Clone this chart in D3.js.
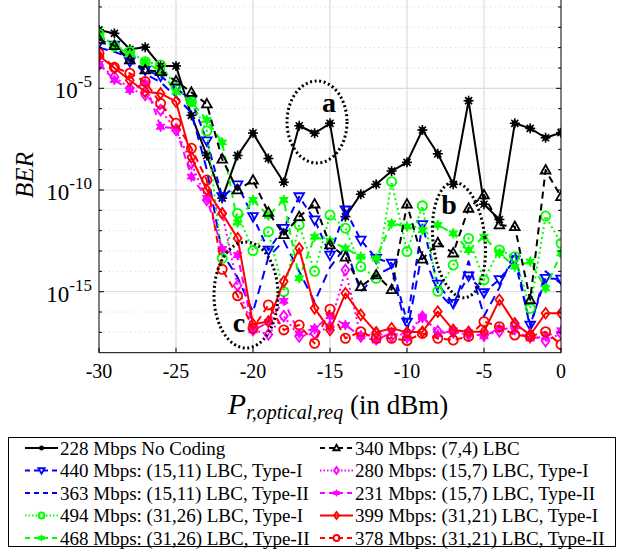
<!DOCTYPE html>
<html><head><meta charset="utf-8">
<script src="https://cdn.jsdelivr.net/npm/d3@7"></script>
<style>body{margin:0;background:#fff}svg{display:block}</style>
</head><body><div id="chart"></div>
<script>
// x values (dBm)
const xVals = d3.range(-30, 1, 1);
// log10(BER) values, one per x value
const noCoding   = [-2.13,-2.30,-3.08,-2.98,-3.90,-3.90,-6.33,-8.3,-10.4,-8.3,-7.2,-8.45,-9.62,-6.84,-7.21,-6.72,-11.31,-10.21,-9.72,-9.07,-8.64,-7.05,-8.22,-9.72,-5.61,-10.7,-11.45,-6.72,-6.97,-7.43,-7.18];
const lbc74      = [-2.6,-2.9,-3.6,-4.1,-4.18,-4.64,-5.2,-5.77,-8.48,-10.0,-9.52,-11.1,-12.2,-11.31,-10.69,-12.7,-13.3,-14.75,-14.18,-14.9,-10.7,-13.4,-12.6,-13.1,-10.9,-10.24,-11.72,-11.8,-15.4,-9.02,-10.33];
const lbc1511T1  = [-2.76,-2.87,-3.69,-4.1,-4.4,-5.0,-5.57,-7.58,-10.33,-9.75,-11.31,-12.95,-11.88,-10.33,-11.47,-13.2,-10.98,-12.46,-13.36,-13.6,-16.5,-11.7,-14.63,-15.57,-14.22,-15.04,-14.4,-13.44,-16.64,-14.34,-14.38];
const lbc1511T2  = [-3.0,-3.2,-3.5,-4.3,-4.7,-5.4,-6.2,-9.0,-13.1,-14.3,-16.0,-13.3,-12.5,-14.0,-15.5,-13.8,-12.8,-15.0,-14.2,-13.8,-17.0,-13.0,-15.0,-15.8,-13.5,-16.2,-14.8,-13.0,-16.8,-14.0,-14.6];
const lbc3126T1  = [-2.33,-2.92,-3.2,-3.69,-3.85,-4.9,-5.66,-7.1,-13.36,-11.15,-12.98,-12.05,-15.0,-11.72,-14.0,-11.23,-11.88,-13.77,-14.34,-9.59,-13.03,-10.78,-14.98,-13.69,-12.38,-14.42,-12.95,-13.28,-15.82,-11.28,-12.62];
const lbc3126T2  = [-2.4,-2.95,-3.3,-3.7,-4.18,-5.17,-5.66,-6.56,-7.66,-11.6,-10.49,-11.27,-10.49,-14.34,-12.3,-12.5,-12.87,-13.28,-13.36,-11.64,-11.8,-11.97,-11.72,-12.13,-12.95,-12.3,-13.11,-13.77,-13.52,-14.83,-13.11];
const lbc157T1   = [-3.85,-4.43,-5.0,-5.33,-6.07,-7.05,-8.69,-10.49,-11.15,-14.7,-16.88,-17.1,-16.2,-17.2,-17.05,-16.72,-13.93,-17.2,-17.05,-17.2,-17.05,-16.23,-16.95,-17.0,-17.1,-17.15,-16.95,-16.65,-17.1,-17.43,-17.05];
const lbc157T2   = [-3.8,-4.59,-5.08,-4.75,-6.89,-6.97,-9.34,-10.4,-12.9,-13.2,-16.9,-16.5,-15.45,-17.05,-16.8,-16.2,-16.64,-17.2,-17.4,-17.0,-17.3,-16.23,-17.1,-16.9,-17.0,-17.2,-16.8,-16.9,-17.3,-17.2,-16.9];
const lbc3121T1  = [-3.4,-4.0,-4.6,-5.17,-5.25,-5.66,-8.4,-10.0,-11.15,-12.37,-16.6,-16.47,-14.5,-12.87,-15.82,-16.88,-15.08,-16.14,-17.0,-16.8,-17.0,-16.97,-15.98,-16.88,-16.97,-16.97,-15.4,-16.55,-17.13,-16.06,-16.06];
const lbc3121T2  = [-3.28,-3.97,-4.26,-4.67,-5.74,-6.72,-7.95,-9.51,-13.9,-15.2,-16.8,-15.65,-16.88,-16.64,-17.54,-15.86,-17.29,-16.97,-17.3,-17.29,-17.4,-17.05,-17.29,-17.38,-17.2,-16.47,-16.72,-17.13,-17.2,-16.97,-17.6];

const seriesNames = ["228 Mbps No Coding","440 Mbps: (15,11) LBC, Type-I","363 Mbps: (15,11) LBC, Type-II","494 Mbps: (31,26) LBC, Type-I","468 Mbps: (31,26) LBC, Type-II","340 Mbps: (7,4) LBC","280 Mbps: (15,7) LBC, Type-I","231 Mbps: (15,7) LBC, Type-II","399 Mbps: (31,21) LBC, Type-I","378 Mbps: (31,21) LBC, Type-II"];
const seriesData = [noCoding,lbc1511T1,lbc1511T2,lbc3126T1,lbc3126T2,lbc74,lbc157T1,lbc157T2,lbc3121T1,lbc3121T2];
const xTicks = [-30,-25,-20,-15,-10,-5,0];
const yTickExps = [-15,-10,-5];

const styles = [
  {color:"#000000", dash:null,     marker:"dotstar"},
  {color:"#0000ff", dash:"7,5",    marker:"tridown"},
  {color:"#0000ff", dash:"9,6",    marker:null},
  {color:"#00ff00", dash:"2,3",    marker:"circle"},
  {color:"#00ff00", dash:"7,5",    marker:"hexa"},
  {color:"#000000", dash:"7,5",    marker:"triup"},
  {color:"#ff00ff", dash:"2,3",    marker:"diamond"},
  {color:"#ff00ff", dash:"7,5",    marker:"hexa"},
  {color:"#ff0000", dash:null,     marker:"diamond"},
  {color:"#ff0000", dash:"7,5",    marker:"circle"}
];

const W=619,H=549;
const FONT="'Liberation Serif','Times New Roman','DejaVu Serif',serif";
const svg=d3.select("#chart").append("svg").attr("width",W).attr("height",H).attr("font-family",FONT);
const L=99,R=561,T=0,B=352.7;
const x=d3.scaleLinear().domain([-30,0]).range([L,R]);
const y=d3.scaleLog().domain([1e-18,1e-2]).range([B,27.3]);

// grid
const g=svg.append("g");
for(let e=-17;e<=-1;e++){
  const major = yTickExps.includes(e);
  g.append("line").attr("x1",L).attr("x2",R).attr("y1",y(Math.pow(10,e))).attr("y2",y(Math.pow(10,e)))
   .attr("stroke",major?"#dcdcdc":"#e0e0e0").attr("stroke-width",major?1.2:1).attr("stroke-dasharray",major?null:"1.5,3");
}
xTicks.slice(1,-1).forEach(v=>{
  g.append("line").attr("x1",x(v)).attr("x2",x(v)).attr("y1",T).attr("y2",B).attr("stroke","#dcdcdc").attr("stroke-width",1.2);
});

svg.append("clipPath").attr("id","clip").append("rect").attr("x",L).attr("y",T).attr("width",R-L).attr("height",B-T);

function markerPath(type,s){
  const r=s;
  switch(type){
    case "circle": return d3.symbol().type(d3.symbolCircle).size(Math.PI*r*r)();
    case "diamond": return `M0,${-r*1.15}L${r*0.85},0L0,${r*1.15}L${-r*0.85},0Z`;
    case "triup": return `M0,${-r*1.1}L${r*1.05},${r*0.75}L${-r*1.05},${r*0.75}Z`;
    case "tridown": return `M0,${r*1.1}L${r*1.05},${-r*0.75}L${-r*1.05},${-r*0.75}Z`;
    case "hexa": {
      let p=[];for(let i=0;i<12;i++){const a=Math.PI/6*i-Math.PI/2;const rr=i%2?r*0.55:r*1.1;p.push([rr*Math.cos(a),rr*Math.sin(a)]);}
      return "M"+p.map(q=>q.join(",")).join("L")+"Z";
    }
  }
}
function drawMarker(sel,type,color,s,cx,cy){
  if(!type) return;
  if(type==="dotstar"){
    sel.append("circle").attr("cx",cx).attr("cy",cy).attr("r",s*0.6).attr("fill",color);
    const gg=sel.append("g").attr("transform",`translate(${cx},${cy})`);
    for(let i=0;i<4;i++){const a=Math.PI/4*i;gg.append("line").attr("x1",-s*Math.cos(a)).attr("y1",-s*Math.sin(a)).attr("x2",s*Math.cos(a)).attr("y2",s*Math.sin(a)).attr("stroke",color).attr("stroke-width",1.6);}
    return;
  }
  const filled = type==="hexa";
  sel.append("path").attr("d",markerPath(type,s)).attr("transform",`translate(${cx},${cy})`)
    .attr("fill",filled?color:"none").attr("stroke",color).attr("stroke-width",filled?1:1.8);
}

const plot=svg.append("g").attr("clip-path","url(#clip)");
const line=d3.line().x((d,i)=>x(xVals[i])).y(d=>y(Math.pow(10,d)));
seriesData.forEach((arr,k)=>{
  const st=styles[k];
  const gs=plot.append("g");
  gs.append("path").attr("d",line(arr)).attr("fill","none").attr("stroke",st.color).attr("stroke-width",2)
    .attr("stroke-dasharray",st.dash).attr("stroke-linejoin","round");
  arr.forEach((v,i)=>drawMarker(gs,st.marker,st.color,st.marker==="dotstar"?5:4.6,x(xVals[i]),y(Math.pow(10,v))));
});

// axes
const ax=svg.append("g").attr("stroke","#000").attr("stroke-width",1);
ax.append("line").attr("x1",L).attr("x2",L).attr("y1",T).attr("y2",B);
ax.append("line").attr("x1",R).attr("x2",R).attr("y1",T).attr("y2",B);
ax.append("line").attr("x1",L).attr("x2",R).attr("y1",B).attr("y2",B);
for(let e=-17;e<=-1;e++){
  const yy=y(Math.pow(10,e)), len=yTickExps.includes(e)?5:3;
  ax.append("line").attr("x1",L).attr("x2",L+len).attr("y1",yy).attr("y2",yy);
  ax.append("line").attr("x1",R).attr("x2",R-len).attr("y1",yy).attr("y2",yy);
}
xTicks.forEach(v=>{
  ax.append("line").attr("x1",x(v)).attr("x2",x(v)).attr("y1",B).attr("y2",B-5);
  svg.append("text").attr("x",x(v)).attr("y",B+25).attr("text-anchor","middle").attr("font-size",20).text(v);
});
yTickExps.forEach(e=>{
  const t=svg.append("text").attr("x",92).attr("y",y(Math.pow(10,e))+10).attr("text-anchor","end").attr("font-size",23);
  t.append("tspan").text("10");
  t.append("tspan").attr("dy",-11).attr("font-size",17).text(e);
});
svg.append("text").attr("transform","translate(33,175) rotate(-90)").attr("text-anchor","middle").attr("font-size",25).attr("font-style","italic").text("BER");
const xt=svg.append("text").attr("x",338).attr("y",414).attr("text-anchor","middle").attr("font-size",27);
xt.append("tspan").attr("font-style","italic").attr("font-size",30).text("P");
xt.append("tspan").attr("font-style","italic").attr("font-size",20).attr("dy",5).text("r,optical,req");
xt.append("tspan").attr("dy",-5).text(" (in dBm)");

// annotations
const an=svg.append("g").attr("fill","none").attr("stroke","#000").attr("stroke-width",3).attr("stroke-dasharray","2,2.6");
an.append("ellipse").attr("cx",317).attr("cy",122).attr("rx",30).attr("ry",41);
an.append("ellipse").attr("cx",459).attr("cy",240).attr("rx",26).attr("ry",58).attr("transform","rotate(-6,459,240)");
an.append("ellipse").attr("cx",246).attr("cy",295).attr("rx",32).attr("ry",53);
[["a",329,112],["b",449,214],["c",239,332]].forEach(d=>svg.append("text").attr("x",d[1]).attr("y",d[2]).attr("text-anchor","middle").attr("font-size",28).attr("font-weight","bold").text(d[0]));

// legend
const lg=svg.append("g");
lg.append("rect").attr("x",8.5).attr("y",437.5).attr("width",607).attr("height",109).attr("fill","#fff").attr("stroke","#000").attr("stroke-width",1);
seriesNames.forEach((n,k)=>{
  const col=k<5?0:1,row=k%5;
  const x0=col?320:25, yy=448+row*22.5;
  const st=styles[k];
  lg.append("line").attr("x1",x0).attr("x2",x0+33).attr("y1",yy).attr("y2",yy).attr("stroke",st.color).attr("stroke-width",2).attr("stroke-dasharray",st.dash?(st.dash==="2,3"?"1.5,2":"5,4"):null);
  drawMarker(lg,st.marker,st.color,st.marker==="dotstar"?2.5:3,x0+16.5,yy);
  lg.append("text").attr("x",x0+35).attr("y",yy+6.5).attr("font-size",19).text(n);
});
</script></body></html>
